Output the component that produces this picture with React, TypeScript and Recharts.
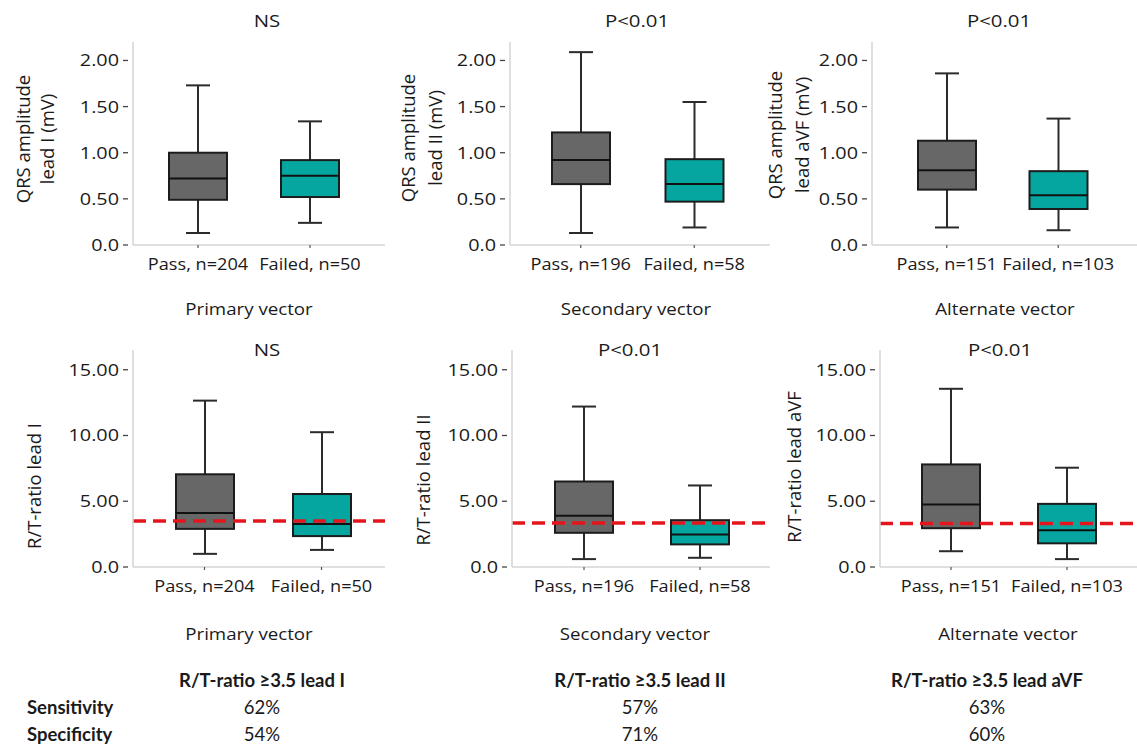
import React from "react";
import { ComposedChart, Bar, XAxis, YAxis, ReferenceLine } from "recharts";

// box statistics are [min, q1, median, q3, max]
const QRS_PASS = [
  [0.13, 0.49, 0.72, 1.0, 1.73],
  [0.13, 0.66, 0.92, 1.22, 2.09],
  [0.19, 0.6, 0.81, 1.13, 1.86],
];
const QRS_FAIL = [
  [0.24, 0.52, 0.75, 0.92, 1.34],
  [0.19, 0.47, 0.66, 0.93, 1.55],
  [0.16, 0.39, 0.54, 0.8, 1.37],
];
const RT_PASS = [
  [1.0, 2.9, 4.1, 7.05, 12.65],
  [0.6, 2.6, 3.9, 6.5, 12.2],
  [1.2, 2.95, 4.75, 7.8, 13.55],
];
const RT_FAIL = [
  [1.3, 2.35, 3.27, 5.55, 10.25],
  [0.7, 1.72, 2.48, 3.56, 6.2],
  [0.6, 1.8, 2.8, 4.8, 7.55],
];
const RT_CUTOFF = [3.5, 3.35, 3.3];

const CATEGORIES = [
  ["Pass, n=204", "Failed, n=50"],
  ["Pass, n=196", "Failed, n=58"],
  ["Pass, n=151", "Failed, n=103"],
];
const QRS_TITLES = ["NS", "P<0.01", "P<0.01"];
const RT_TITLES = ["NS", "P<0.01", "P<0.01"];
const VECTORS = ["Primary vector", "Secondary vector", "Alternate vector"];
const QRS_LABELS = [
  ["QRS amplitude", "lead I (mV)"],
  ["QRS amplitude", "lead II (mV)"],
  ["QRS amplitude", "lead aVF (mV)"],
];
const RT_LABELS = ["R/T-ratio lead I", "R/T-ratio lead II", "R/T-ratio lead aVF"];

const QRS_TICKS = [0, 0.5, 1, 1.5, 2];
const QRS_TICK_LABELS = ["0.0", "0.50", "1.00", "1.50", "2.00"];
const RT_TICKS = [0, 5, 10, 15];
const RT_TICK_LABELS = ["0.0", "5.00", "10.00", "15.00"];

const TABLE_HEADERS = ["R/T-ratio ≥3.5 lead I", "R/T-ratio ≥3.5 lead II", "R/T-ratio ≥3.5 lead aVF"];
const SENSITIVITY = ["62%", "57%", "63%"];
const SPECIFICITY = ["54%", "71%", "60%"];

const GROUP_COLORS = ["#676767", "#05a69f"];
const FONT = "'Open Sans', sans-serif";
const INK = "#1a1a1a";

// layout of the six panels (pixels)
const TOP_ROW = [
  { left: 0, axisX: 133, right: 385, padL: 9, padR: 19 },
  { left: 380, axisX: 510, right: 770, padL: 14, padR: 19 },
  { left: 757, axisX: 872, right: 1137, padL: 19, padR: 23 },
];
const BOTTOM_ROW = [
  { left: 0, axisX: 133, right: 385, padL: 13, padR: 5 },
  { left: 380, axisX: 512, right: 770, padL: 14, padR: 12 },
  { left: 757, axisX: 880, right: 1137, padL: 13, padR: 12 },
];
const QRS_YLABEL_POS = [
  { x1: 22, x2: 46, y: 139 },
  { x1: 407, x2: 434, y: 138 },
  { x1: 774, x2: 801, y: 135 },
];
const RT_YLABEL_POS = [
  { x: 33, y: 486 },
  { x: 422, y: 480 },
  { x: 793, y: 467 },
];

const BoxShape = (props: any) => {
  const { x, y, width, height, payload } = props;
  const [lo, q1, med, q3, hi] = payload.stats;
  const top = Math.min(y, y + height);
  const bottom = Math.max(y, y + height);
  const toY = (v: number) => bottom - ((v - lo) / (hi - lo)) * (bottom - top);
  const cx = x + width / 2;
  const cap = 12;
  return (
    <g>
      <line x1={cx} x2={cx} y1={toY(hi)} y2={toY(q3)} stroke="#2b2b2b" strokeWidth={2} />
      <line x1={cx} x2={cx} y1={toY(q1)} y2={toY(lo)} stroke="#2b2b2b" strokeWidth={2} />
      <line x1={cx - cap} x2={cx + cap} y1={toY(hi)} y2={toY(hi)} stroke="#2b2b2b" strokeWidth={2} />
      <line x1={cx - cap} x2={cx + cap} y1={toY(lo)} y2={toY(lo)} stroke="#2b2b2b" strokeWidth={2} />
      <rect
        x={x}
        y={toY(q3)}
        width={width}
        height={toY(q1) - toY(q3)}
        fill={GROUP_COLORS[payload.group]}
        stroke="#1c1c1c"
        strokeWidth={2}
      />
      <line x1={x} x2={x + width} y1={toY(med)} y2={toY(med)} stroke="#111" strokeWidth={2} />
    </g>
  );
};

const YTick = (props: any) => {
  const { x, y, payload, ticks, labels } = props;
  const label = labels[ticks.indexOf(payload.value)];
  return (
    <g>
      <line x1={x - 10} x2={x - 5} y1={y} y2={y} stroke="#444" strokeWidth={1.3} />
      <g transform={`translate(${x - 14},${y}) scale(1.2,1)`}>
        <text textAnchor="end" dy="0.36em" fontSize={16.5} fill={INK} fontFamily={FONT}>
          {label}
        </text>
      </g>
    </g>
  );
};

const XTick = (props: any) => {
  const { x, y, payload } = props;
  return (
    <g transform={`translate(${x},${y}) scale(1.1,1)`}>
      <text textAnchor="middle" dy={12} fontSize={16.5} fill={INK} fontFamily={FONT}>
        {payload.value}
      </text>
    </g>
  );
};

function makeRows(i: number, pass: number[][], fail: number[][]) {
  return [
    { name: CATEGORIES[i][0], group: 0, stats: pass[i], range: [pass[i][0], pass[i][4]] },
    { name: CATEGORIES[i][1], group: 1, stats: fail[i], range: [fail[i][0], fail[i][4]] },
  ];
}

function BoxPanel(props: any) {
  const { data, geo, top, height, marginTop, domain, ticks, tickLabels, cutoff } = props;
  return (
    <div style={{ position: "absolute", left: geo.left, top }}>
      <ComposedChart
        width={geo.right - geo.left}
        height={height}
        data={data}
        margin={{ top: marginTop, right: 0, bottom: 0, left: 0 }}
      >
        <XAxis
          dataKey="name"
          type="category"
          interval={0}
          height={40}
          padding={{ left: geo.padL, right: geo.padR }}
          axisLine={{ stroke: "#d4d4d4", strokeWidth: 1.5 }}
          tickLine={{ stroke: "#555", strokeWidth: 1.2 }}
          tickSize={3}
          tickMargin={10}
          tick={(p: any) => <XTick {...p} />}
        />
        <YAxis
          type="number"
          width={geo.axisX - geo.left}
          domain={domain}
          ticks={ticks}
          interval={0}
          axisLine={{ stroke: "#d4d4d4", strokeWidth: 1.5 }}
          tickLine={false}
          tickSize={0}
          tickMargin={0}
          tick={(p: any) => <YTick {...p} ticks={ticks} labels={tickLabels} />}
        />
        <Bar dataKey="range" barSize={58} shape={BoxShape} isAnimationActive={false} />
        {cutoff !== undefined && (
          <ReferenceLine y={cutoff} stroke="#e4161d" strokeWidth={3.5} strokeDasharray="13 7" />
        )}
      </ComposedChart>
    </div>
  );
}

const Txt = (props: any) => {
  const { x, y, sx = 1, anchor = "middle", size = 17, weight = 400, family = FONT, rotate = 0, children } = props;
  const tf = rotate
    ? `translate(${x},${y}) rotate(${rotate})`
    : `translate(${x},${y}) scale(${sx},1)`;
  return (
    <text
      transform={tf}
      textAnchor={anchor}
      dominantBaseline={rotate ? "central" : undefined}
      fontSize={size}
      fontWeight={weight}
      fontFamily={family}
      fill={INK}
    >
      {children}
    </text>
  );
};

export default function App() {
  const qrsTitleX = [267, 637, 999];
  const rtTitleX = [267, 630, 1000];
  const vecTopX = [249, 636, 1005];
  const vecBotX = [249, 635, 1008];
  const tableX = [262, 640, 987];
  const TABLE_FONT = "Lato, 'Open Sans', sans-serif";

  return (
    <div
      style={{
        position: "absolute",
        left: 0,
        top: 0,
        width: 1137,
        height: 748,
        background: "#fff",
        overflow: "hidden",
      }}
    >
      {TOP_ROW.map((geo, i) => (
        <BoxPanel
          key={"q" + i}
          data={makeRows(i, QRS_PASS, QRS_FAIL)}
          geo={geo}
          top={0}
          height={285}
          marginTop={42}
          domain={[0, 2.2]}
          ticks={QRS_TICKS}
          tickLabels={QRS_TICK_LABELS}
        />
      ))}
      {BOTTOM_ROW.map((geo, i) => (
        <BoxPanel
          key={"r" + i}
          data={makeRows(i, RT_PASS, RT_FAIL)}
          geo={geo}
          top={330}
          height={277}
          marginTop={20}
          domain={[0, 16.5]}
          ticks={RT_TICKS}
          tickLabels={RT_TICK_LABELS}
          cutoff={RT_CUTOFF[i]}
        />
      ))}

      <svg
        width={1137}
        height={748}
        style={{ position: "absolute", left: 0, top: 0, pointerEvents: "none" }}
      >
        {QRS_TITLES.map((t, i) => (
          <Txt key={"qt" + i} x={qrsTitleX[i]} y={27} sx={1.2}>
            {t}
          </Txt>
        ))}
        {RT_TITLES.map((t, i) => (
          <Txt key={"rt" + i} x={rtTitleX[i]} y={356} sx={1.2}>
            {t}
          </Txt>
        ))}
        {VECTORS.map((t, i) => (
          <Txt key={"vt" + i} x={vecTopX[i]} y={315} sx={1.1}>
            {t}
          </Txt>
        ))}
        {VECTORS.map((t, i) => (
          <Txt key={"vb" + i} x={vecBotX[i]} y={640} sx={1.1}>
            {t}
          </Txt>
        ))}
        {QRS_LABELS.map((lines, i) => (
          <g key={"ql" + i}>
            <Txt x={QRS_YLABEL_POS[i].x1} y={QRS_YLABEL_POS[i].y} rotate={-90} size={18.5}>
              {lines[0]}
            </Txt>
            <Txt x={QRS_YLABEL_POS[i].x2} y={QRS_YLABEL_POS[i].y} rotate={-90} size={18.5}>
              {lines[1]}
            </Txt>
          </g>
        ))}
        {RT_LABELS.map((t, i) => (
          <Txt key={"rl" + i} x={RT_YLABEL_POS[i].x} y={RT_YLABEL_POS[i].y} rotate={-90} size={18.5}>
            {t}
          </Txt>
        ))}

        {TABLE_HEADERS.map((t, i) => (
          <Txt key={"th" + i} x={tableX[i]} y={687} size={18.5} weight={700} family={TABLE_FONT}>
            {t}
          </Txt>
        ))}
        <Txt x={27} y={714} anchor="start" size={18.5} weight={700} family={TABLE_FONT}>
          Sensitivity
        </Txt>
        <Txt x={27} y={741} anchor="start" size={18.5} weight={700} family={TABLE_FONT}>
          Specificity
        </Txt>
        {SENSITIVITY.map((t, i) => (
          <Txt key={"se" + i} x={tableX[i]} y={714} size={18.5} family={TABLE_FONT}>
            {t}
          </Txt>
        ))}
        {SPECIFICITY.map((t, i) => (
          <Txt key={"sp" + i} x={tableX[i]} y={741} size={18.5} family={TABLE_FONT}>
            {t}
          </Txt>
        ))}
      </svg>
    </div>
  );
}
